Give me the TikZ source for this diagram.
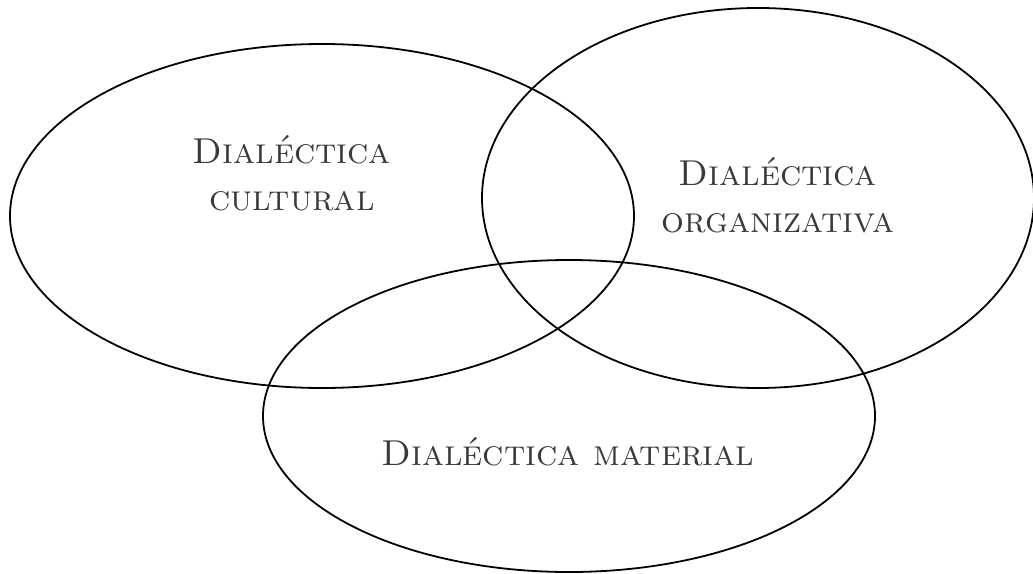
\documentclass[tikz,border=0pt]{standalone}
\usepackage{xcolor}
\definecolor{txt}{HTML}{3A3A38}
\begin{document}
\begin{tikzpicture}[x=1pt,y=-1pt,
  ring/.style={draw=black,line width=1.8pt},
  lab/.style={text=txt,font=\fontsize{36}{47}\selectfont\scshape,align=center,inner sep=0pt}]
\useasboundingbox (0,0) rectangle (1033,573);
\draw[ring] (322,216) ellipse [x radius=312,y radius=172];
\draw[ring] (758,198) ellipse [x radius=276,y radius=190];
\draw[ring] (569,416) ellipse [x radius=306,y radius=156];
\node[lab,anchor=base] (c) at (292,210) {Dialéctica\\cultural};
\node[lab,anchor=base] (o) at (778,232) {Dialéctica\\organizativa};
\node[lab,anchor=base] (m) at (568,465) {Dialéctica material};
\end{tikzpicture}
\end{document}
